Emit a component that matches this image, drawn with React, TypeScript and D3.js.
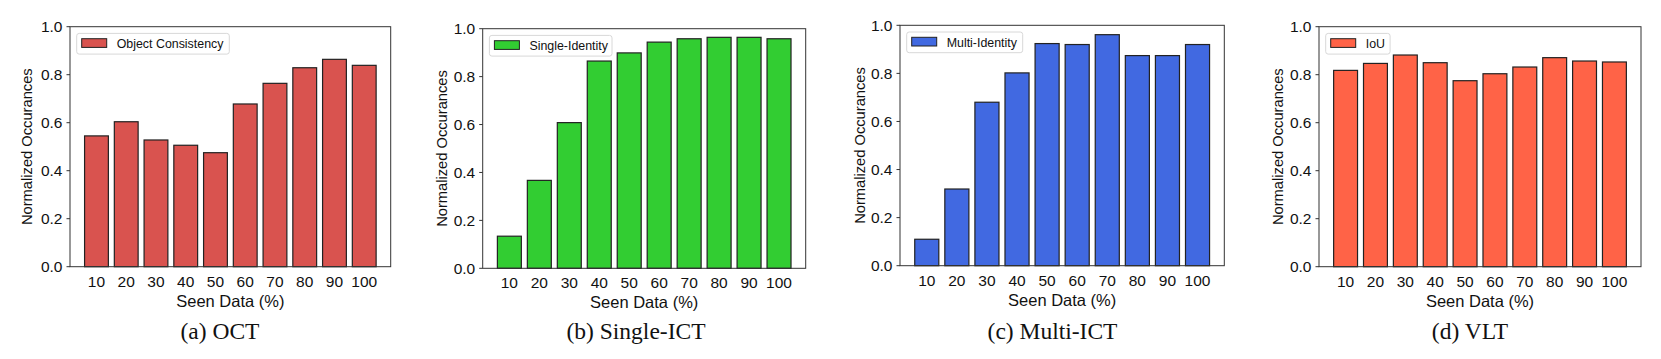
import * as d3 from "d3";
import React from "react";

const seen = ["10", "20", "30", "40", "50", "60", "70", "80", "90", "100"];
const yTicks = [0, 0.2, 0.4, 0.6, 0.8, 1.0];

const octValues = [0.545, 0.604, 0.528, 0.506, 0.475, 0.678, 0.764, 0.829, 0.864, 0.839];
const singleValues = [0.134, 0.367, 0.608, 0.865, 0.899, 0.944, 0.958, 0.964, 0.964, 0.958];
const multiValues = [0.11, 0.319, 0.68, 0.802, 0.924, 0.92, 0.961, 0.874, 0.874, 0.92];
const vltValues = [0.818, 0.847, 0.882, 0.85, 0.775, 0.804, 0.832, 0.871, 0.857, 0.853];

const legendNames = ["Object Consistency", "Single-Identity", "Multi-Identity", "IoU"];
const captions = ["(a) OCT", "(b) Single-ICT", "(c) Multi-ICT", "(d) VLT"];
const colors = ["#d9534f", "#32cd32", "#4169e1", "#ff6347"];

const xLabel = "Seen Data (%)";
const yLabel = "Normalized Occurances";

// layout of each subplot (pixels)
const frames = [
  { left: 70, right: 390.7, top: 26.7, bottom: 266.7, cap: 220, ylab: 26.7, legW: 152.6 },
  { left: 482.7, right: 805.7, top: 28.7, bottom: 268.3, cap: 636, ylab: 441.7, legW: 122.6 },
  { left: 900, right: 1224.3, top: 25.3, bottom: 265.7, cap: 1052.5, ylab: 859.3, legW: 116 },
  { left: 1319, right: 1641, top: 26.7, bottom: 266.7, cap: 1470, ylab: 1277.3, legW: 64.4 },
];

const sans = "'Liberation Sans', Arial, sans-serif";
const serif = "'Liberation Serif', 'Times New Roman', serif";

function Panel({ values, frame, color, name, caption }) {
  const x = d3.scaleLinear().domain([-0.89, 9.89]).range([frame.left, frame.right]);
  const y = d3.scaleLinear().domain([0, 1]).range([frame.bottom, frame.top]);
  const bw = x(0.4) - x(-0.4);
  const midY = (frame.top + frame.bottom) / 2;
  const midX = (frame.left + frame.right) / 2;
  const lx = frame.left + 6.7;
  const ly = frame.top + 6.7;

  return (
    <g>
      {values.map((v, i) => (
        <rect
          key={i}
          x={x(i) - bw / 2}
          y={y(v)}
          width={bw}
          height={y(0) - y(v)}
          fill={color}
          stroke="#222"
          strokeWidth={1.2}
        />
      ))}
      <rect
        x={frame.left}
        y={frame.top}
        width={frame.right - frame.left}
        height={frame.bottom - frame.top}
        fill="none"
        stroke="#333"
        strokeWidth={1}
      />
      {yTicks.map((t) => (
        <g key={t}>
          <line x1={frame.left - 3.5} x2={frame.left} y1={y(t)} y2={y(t)} stroke="#333" />
          <text
            x={frame.left - 7.5}
            y={y(t)}
            dy="0.36em"
            textAnchor="end"
            fontFamily={sans}
            fontSize={15.5}
            fill="#111"
          >
            {d3.format(".1f")(t)}
          </text>
        </g>
      ))}
      {seen.map((s, i) => (
        <text
          key={s}
          x={x(i)}
          y={frame.bottom + 20}
          textAnchor="middle"
          fontFamily={sans}
          fontSize={15.5}
          fill="#111"
        >
          {s}
        </text>
      ))}
      <text x={midX} y={frame.bottom + 40} textAnchor="middle" fontFamily={sans} fontSize={16.5} fill="#111">
        {xLabel}
      </text>
      <text
        transform={`translate(${frame.ylab},${midY}) rotate(-90)`}
        textAnchor="middle"
        dy="0.36em"
        fontFamily={sans}
        fontSize={14.7}
        fill="#111"
      >
        {yLabel}
      </text>
      <rect x={lx} y={ly} width={frame.legW} height={20.7} rx={2.5} fill="#fff" fillOpacity={0.8} stroke="#d8d8d8" />
      <rect x={lx + 5} y={ly + 5.3} width={25} height={8.7} fill={color} stroke="#222" strokeWidth={1} />
      <text x={lx + 40} y={ly + 10.3} dy="0.36em" fontFamily={sans} fontSize={12.4} fill="#111">
        {name}
      </text>
      <text x={frame.cap} y={339} textAnchor="middle" fontFamily={serif} fontSize={23.5} fill="#111">
        {caption}
      </text>
    </g>
  );
}

export default function App() {
  const series = [octValues, singleValues, multiValues, vltValues];
  return (
    <svg
      width={1661}
      height={359}
      viewBox="0 0 1661 359"
      style={{ position: "absolute", left: 0, top: 0, background: "#fff" }}
    >
      <rect width={1661} height={359} fill="#fff" />
      {series.map((vals, k) => (
        <Panel
          key={k}
          values={vals}
          frame={frames[k]}
          color={colors[k]}
          name={legendNames[k]}
          caption={captions[k]}
        />
      ))}
    </svg>
  );
}
